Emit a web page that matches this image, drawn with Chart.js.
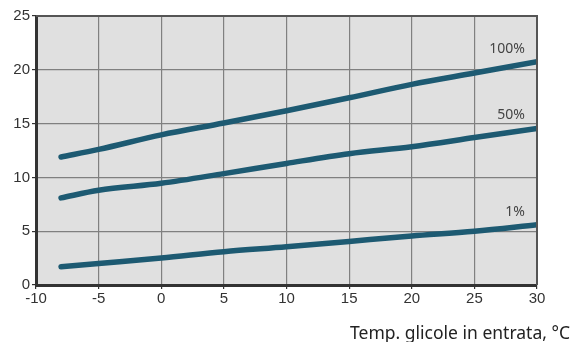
<!DOCTYPE html>
<html>
<head>
<meta charset="utf-8">
<script src="https://cdn.jsdelivr.net/npm/chart.js@4"></script>
<style>
  html, body { margin: 0; padding: 0; background: #fff; }
  #wrap { width: 571px; height: 342px; position: relative; }
</style>
</head>
<body>
<div id="wrap"><canvas id="chart"></canvas></div>
<script>
// inlet glycol temperature, °C
const temps = [-8, -5, 0, 5, 10, 15, 20, 25, 30];
// one curve per load level
const loadLabels = ['100%', '50%', '1%'];
const load100 = [11.9, 12.6, 13.95, 15.05, 16.2, 17.4, 18.65, 19.7, 20.75];
const load50 = [8.1, 8.8, 9.45, 10.35, 11.3, 12.2, 12.85, 13.7, 14.55];
const load1 = [1.7, 2.0, 2.5, 3.1, 3.55, 4.05, 4.55, 5.0, 5.6];
const xTicks = [-10, -5, 0, 5, 10, 15, 20, 25, 30];
const yTicks = [0, 5, 10, 15, 20, 25];
const xTitle = 'Temp. glicole in entrata, °C';

const lineColor = '#1d5a72';
const toPoints = (vals) => vals.map((v, i) => ({ x: temps[i], y: v }));

// grey plot background plus the top/right frame
const frame = {
  id: 'frame',
  beforeDraw(chart) {
    const { ctx, chartArea: a } = chart;
    ctx.save();
    ctx.fillStyle = '#e0e0e0';
    ctx.fillRect(a.left, a.top, a.right - a.left, a.bottom - a.top);
    ctx.restore();
  },
  afterDatasetsDraw(chart) {
    const { ctx, chartArea: a } = chart;
    ctx.save();
    ctx.strokeStyle = '#555';
    ctx.lineWidth = 2;
    ctx.beginPath();
    ctx.moveTo(a.left, a.top);
    ctx.lineTo(a.right, a.top);
    ctx.lineTo(a.right, a.bottom);
    ctx.stroke();

    // curve names, just above each line's last point
    ctx.font = '14px "Noto Sans", sans-serif';
    ctx.fillStyle = '#444';
    ctx.textAlign = 'right';
    ctx.textBaseline = 'middle';
    chart.data.datasets.forEach((ds, i) => {
      const pt = chart.getDatasetMeta(i).data[ds.data.length - 1];
      ctx.fillText(ds.label, pt.x - 12, pt.y - 13);
    });

    ctx.font = '17.5px "Noto Sans", sans-serif';
    ctx.fillStyle = '#222';
    ctx.textBaseline = 'alphabetic';
    ctx.fillText(xTitle, 570, 339);
    ctx.restore();
  }
};

new Chart(document.getElementById('chart'), {
  type: 'line',
  data: {
    datasets: [
      { label: loadLabels[0], data: toPoints(load100) },
      { label: loadLabels[1], data: toPoints(load50) },
      { label: loadLabels[2], data: toPoints(load1) }
    ].map(d => Object.assign(d, {
      borderColor: lineColor,
      borderWidth: 5.5,
      borderCapStyle: 'round',
      pointRadius: 0,
      tension: 0.3,
      cubicInterpolationMode: 'monotone'
    }))
  },
  options: {
    responsive: true,
    maintainAspectRatio: false,
    animation: false,
    layout: { padding: { left: 0, right: 34, top: 16, bottom: 0 } },
    plugins: { legend: { display: false }, tooltip: { enabled: false } },
    scales: {
      x: {
        type: 'linear',
        min: -10,
        max: 30,
        afterFit: (s) => { s.height = 57; },
        afterBuildTicks: (s) => { s.ticks = xTicks.map(v => ({ value: v })); },
        ticks: { color: '#333', padding: 1, font: { family: 'Liberation Sans', size: 15 } },
        grid: { color: '#808080', lineWidth: 1.2, tickLength: 4, tickColor: '#333' },
        border: { color: '#333', width: 3 }
      },
      y: {
        min: 0,
        max: 25,
        afterFit: (s) => { s.width = 36; },
        afterBuildTicks: (s) => { s.ticks = yTicks.map(v => ({ value: v })); },
        ticks: { color: '#333', padding: 2, font: { family: 'Liberation Sans', size: 15 } },
        grid: { color: '#808080', lineWidth: 1.2, tickLength: 4, tickColor: '#333' },
        border: { color: '#333', width: 3 }
      }
    }
  },
  plugins: [frame]
});
</script>
</body>
</html>
